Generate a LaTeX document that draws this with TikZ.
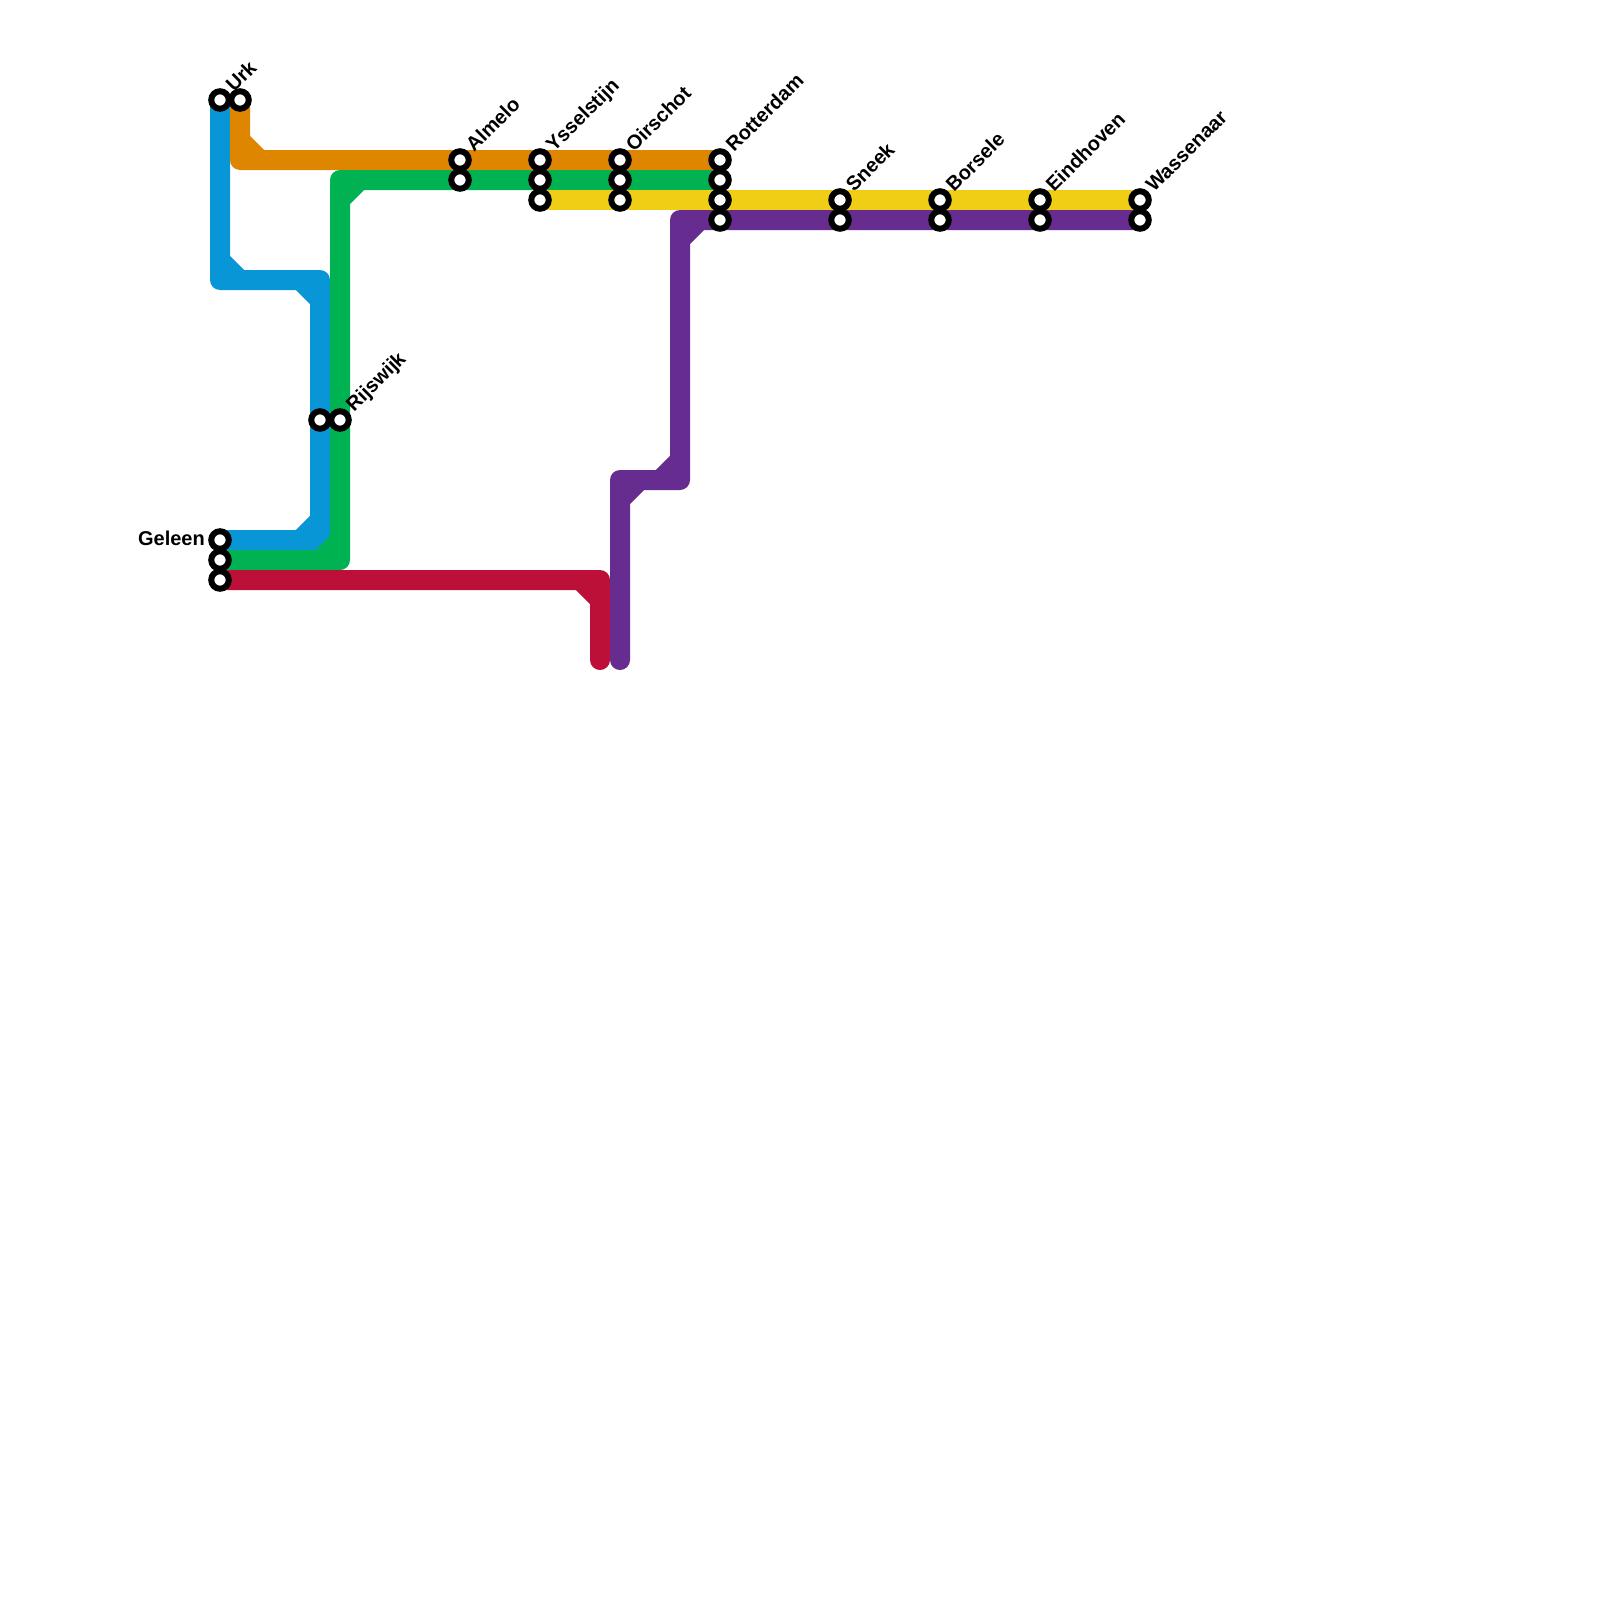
\documentclass[tikz,border=0pt]{standalone}
\usepackage{fontspec}
\setmainfont{Liberation Sans}
\usetikzlibrary{calc,backgrounds}
\definecolor{lineblue}{HTML}{0896D7}
\definecolor{lineorange}{HTML}{DF8600}
\definecolor{linegreen}{HTML}{00B251}
\definecolor{lineyellow}{HTML}{F0CE15}
\definecolor{linepurple}{HTML}{662C90}
\definecolor{linered}{HTML}{BD1038}
\begin{document}
\begin{tikzpicture}[x=1pt,y=-1pt,font=\fontsize{20}{24}\selectfont,
  metro/.style={line width=20pt,line join=round,line cap=round},
  stat/.style={draw=black,fill=white,circle,line width=6pt,minimum size=17.5pt,inner sep=0pt,outer sep=0pt},
  lbl/.style={anchor=base west,rotate=45,inner sep=0pt,text=black,font=\fontsize{20}{24}\selectfont\bfseries}]
  \useasboundingbox (0,0) rectangle (1600,1600);
  % corners
  \coordinate (c1) at (220,280);
  \coordinate (c2) at (320,280);
  \coordinate (c3) at (320,540);
  \coordinate (c4) at (240,160);
  \coordinate (c5) at (340,560);
  \coordinate (c6) at (340,180);
  \coordinate (c7) at (600,580);
  \coordinate (c8) at (620,480);
  \coordinate (c9) at (680,480);
  \coordinate (c10) at (680,220);
  \coordinate (redend) at (600,660);
  \coordinate (purpleend) at (620,660);
  % stations
  \node[stat] (urkB) at (220,100){};
  \node[stat] (urkO) at (240,100){};
  \node[stat] (rijB) at (320,420){};
  \node[stat] (rijG) at (340,420){};
  \node[stat] (gelB) at (220,540){};
  \node[stat] (gelG) at (220,560){};
  \node[stat] (gelR) at (220,580){};
  \node[stat] (almO) at (460,160){};
  \node[stat] (almG) at (460,180){};
  \node[stat] (ysO) at (540,160){};
  \node[stat] (ysG) at (540,180){};
  \node[stat] (ysY) at (540,200){};
  \node[stat] (oiO) at (620,160){};
  \node[stat] (oiG) at (620,180){};
  \node[stat] (oiY) at (620,200){};
  \node[stat] (roO) at (720,160){};
  \node[stat] (roG) at (720,180){};
  \node[stat] (roY) at (720,200){};
  \node[stat] (roP) at (720,220){};
  \node[stat] (snY) at (840,200){};
  \node[stat] (snP) at (840,220){};
  \node[stat] (boY) at (940,200){};
  \node[stat] (boP) at (940,220){};
  \node[stat] (eiY) at (1040,200){};
  \node[stat] (eiP) at (1040,220){};
  \node[stat] (waY) at (1140,200){};
  \node[stat] (waP) at (1140,220){};
  % lines
  \begin{scope}[on background layer]
  \draw[metro,draw=lineblue] (urkB.center) -- (c1) -- (c2) -- (c3) -- (gelB.center)
    (c1) ++(0,-20) -- ++(20,20) (c2) ++(-20,0) -- ++(20,20) (c3) ++(-20,0) -- ++(20,-20);
  \draw[metro,draw=lineorange] (urkO.center) -- (c4) -- (roO.center)
    (c4) ++(0,-20) -- ++(20,20);
  \draw[metro,draw=linegreen] (gelG.center) -- (c5) -- (c6) -- (roG.center)
    (c5) ++(-20,0) -- ++(20,-20) (c6) ++(0,20) -- ++(20,-20);
  \draw[metro,draw=lineyellow] (ysY.center) -- (waY.center);
  \draw[metro,draw=linered] (gelR.center) -- (c7) -- (redend)
    (c7) ++(-20,0) -- ++(20,20);
  \draw[metro,draw=linepurple] (purpleend) -- (c8) -- (c9) -- (c10) -- (waP.center)
    (c8) ++(0,20) -- ++(20,-20) (c9) ++(-20,0) -- ++(20,-20) (c10) ++(0,20) -- ++(20,-20);
  \end{scope}
  % labels
  \node[lbl] (urkL) at ($(urkB)+(14,-7)$) {Urk};
  \node[lbl] (rijL) at ($(rijG)+(14,-7)$) {Rijswijk};
  \node[anchor=base east,inner sep=0pt,font=\fontsize{20}{24}\selectfont\bfseries] (gelL) at (205,545) {Geleen};
  \node[lbl] (almL) at ($(almO)+(14,-7)$) {Almelo};
  \node[lbl] (ysL) at ($(ysO)+(14,-7)$) {Ysselstijn};
  \node[lbl] (oiL) at ($(oiO)+(14,-7)$) {Oirschot};
  \node[lbl] (roL) at ($(roO)+(14,-7)$) {Rotterdam};
  \node[lbl] (snL) at ($(snY)+(14,-7)$) {Sneek};
  \node[lbl] (boL) at ($(boY)+(14,-7)$) {Borsele};
  \node[lbl] (eiL) at ($(eiY)+(14,-7)$) {Eindhoven};
  \node[lbl] (waL) at ($(waY)+(14,-7)$) {Wassenaar};
\end{tikzpicture}
\end{document}
